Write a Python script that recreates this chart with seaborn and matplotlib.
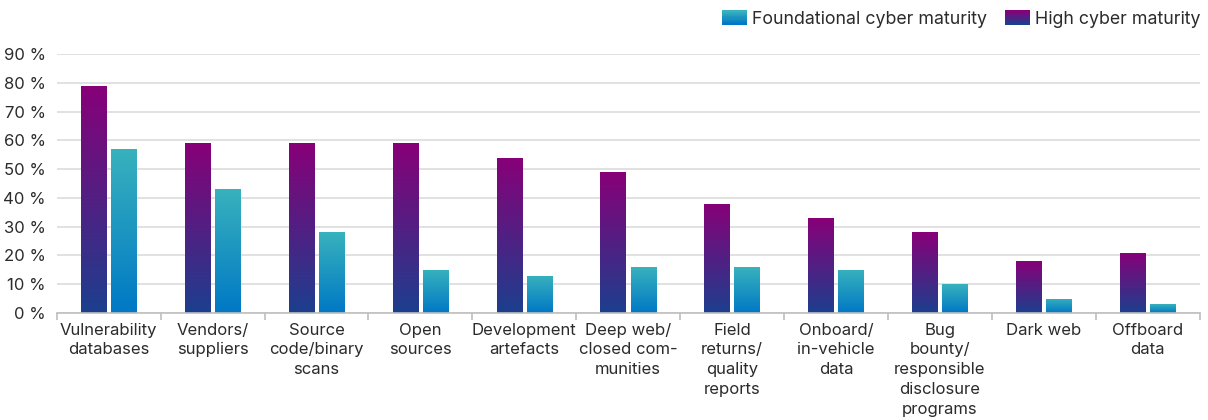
import numpy as np
import pandas as pd
import matplotlib
matplotlib.use("Agg")
import matplotlib.pyplot as plt
import seaborn as sns
from matplotlib.colors import LinearSegmentedColormap
from matplotlib.patches import Rectangle
from matplotlib.legend_handler import HandlerBase
from matplotlib.ticker import FuncFormatter

categories = ["Vulnerability\ndatabases", "Vendors/\nsuppliers", "Source\ncode/binary\nscans",
              "Open\nsources", "Development\nartefacts", "Deep web/\nclosed com-\nmunities",
              "Field\nreturns/\nquality\nreports", "Onboard/\nin-vehicle\ndata",
              "Bug\nbounty/\nresponsible\ndisclosure\nprograms", "Dark web", "Offboard\ndata"]
high = [79, 59, 59, 59, 54, 49, 38, 33, 28, 18, 21]
foundational = [57, 43, 28, 15, 13, 16, 16, 15, 10, 5, 3]
series = ["High cyber maturity", "Foundational cyber maturity"]
yticks = list(range(0, 100, 10))

grad = {
    "High cyber maturity": ("#880078", "#1c3f8e"),
    "Foundational cyber maturity": ("#38b2bd", "#0078c5"),
}

df = pd.DataFrame({
    "category": categories * 2,
    "value": high + foundational,
    "series": [series[0]] * len(categories) + [series[1]] * len(categories),
})

sns.set_theme(style="white")
plt.rcParams["font.family"] = ["Inter", "DejaVu Sans"]
text_color = "#2b2b2b"

fig = plt.figure(figsize=(12.08, 4.2), dpi=100)
ax = fig.add_axes([0.047, 0.255, 0.946, 0.616])

sns.barplot(data=df, x="category", y="value", hue="series", hue_order=series,
            order=categories, palette=[grad[s][1] for s in series],
            width=0.58, gap=0.16, ax=ax, legend=False, saturation=1)

# gradient fill per bar
n = len(categories)
for i, p in enumerate(ax.patches[:2 * n]):
    s = series[i // n]
    top, bot = grad[s]
    cmap = LinearSegmentedColormap.from_list(s, [bot, top])
    x0, y0 = p.get_x(), p.get_y()
    w, h = p.get_width(), p.get_height()
    p.set_facecolor("none")
    p.set_edgecolor("none")
    im = ax.imshow(np.linspace(0, 1, 256).reshape(-1, 1), cmap=cmap, origin="lower",
                   extent=[x0, x0 + w, y0, y0 + h], aspect="auto", zorder=2)
    im.set_clip_path(p)

ax.set_xlim(-0.5, n - 0.5)
ax.set_ylim(0, 90)
ax.set_yticks(yticks)
ax.yaxis.set_major_formatter(FuncFormatter(lambda v, _: f"{int(v)} %"))
ax.grid(axis="y", color="#dcdcdc", linewidth=1.2, zorder=0)
ax.set_axisbelow(True)
for sp in ["top", "right", "left"]:
    ax.spines[sp].set_visible(False)
ax.spines["bottom"].set_color("#bfbfbf")
ax.spines["bottom"].set_linewidth(1.2)
ax.spines["bottom"].set_zorder(3)

ax.set_xticks(np.arange(n))
ax.set_xticklabels(categories, fontsize=12, color=text_color, linespacing=1.4)
ax.tick_params(axis="x", length=0, pad=7)
ax.set_xticks(np.arange(-0.5, n, 1), minor=True)
ax.tick_params(axis="x", which="minor", length=5, color="#bfbfbf", width=1.2, bottom=True)
ax.tick_params(axis="y", length=0, labelsize=12, labelcolor=text_color, pad=8)
ax.set_xlabel("")
ax.set_ylabel("")


class GradHandler(HandlerBase):
    def __init__(self, top, bot):
        super().__init__()
        self.top, self.bot = top, bot

    def create_artists(self, legend, orig_handle, xdescent, ydescent, width, height, fontsize, trans):
        cmap = LinearSegmentedColormap.from_list("g", [self.bot, self.top])
        k = 12
        arts = []
        for j in range(k):
            r = Rectangle((-xdescent, -ydescent + height * j / k), width, height / k + 0.3,
                          facecolor=cmap(j / (k - 1)), edgecolor="none", transform=trans)
            arts.append(r)
        return arts


h_f = Rectangle((0, 0), 1, 1)
h_h = Rectangle((0, 0), 1, 1)
fig.legend([h_f, h_h], ["Foundational cyber maturity", "High cyber maturity"],
           handler_map={h_f: GradHandler(*grad["Foundational cyber maturity"]),
                        h_h: GradHandler(*grad["High cyber maturity"])},
           loc="upper right", bbox_to_anchor=(1.004, 1.005), ncol=2, frameon=False,
           fontsize=12.8, labelcolor=text_color, handlelength=1.45, handleheight=0.85,
           handletextpad=0.25, columnspacing=1.0, borderaxespad=0.3)

fig.savefig("out.png", dpi=100)
